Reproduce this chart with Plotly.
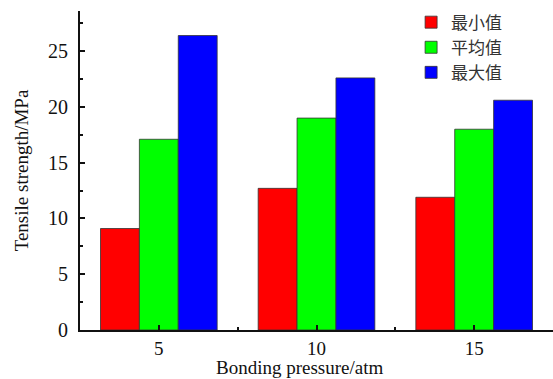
import plotly.graph_objects as go

pressures = [5, 10, 15]
series_names = ["最小值", "平均值", "最大值"]
min_vals = [9.1, 12.7, 11.9]
avg_vals = [17.1, 19.0, 18.0]
max_vals = [26.4, 22.6, 20.6]
colors = ["#ff0000", "#00ff00", "#0000ff"]

fig = go.Figure()
for name, vals, col in zip(series_names, [min_vals, avg_vals, max_vals], colors):
    fig.add_trace(go.Bar(
        x=pressures, y=vals, name=name,
        marker=dict(color=col, line=dict(color="#333333", width=0.8)),
    ))

serif = "Liberation Serif, Times New Roman, serif"
fig.update_layout(
    width=553, height=379,
    margin=dict(l=80, r=0, t=11, b=49),
    paper_bgcolor="white", plot_bgcolor="white",
    barmode="group", bargap=0.26, bargroupgap=0,
    font=dict(family=serif, size=19, color="#111111"),
    showlegend=True,
    legend=dict(
        x=0.70, y=1.02, xanchor="left", yanchor="top",
        bgcolor="rgba(0,0,0,0)",
        font=dict(family="Noto Sans CJK SC", size=17, color="#333333"),
        tracegroupgap=0, itemwidth=30,
    ),
    xaxis=dict(
        range=[2.5, 17.5],
        tickvals=pressures, ticktext=[str(p) for p in pressures],
        ticks="inside", ticklen=5, tickwidth=1.5, tickcolor="#111111",
        minor=dict(tickvals=[7.5, 12.5], ticks="inside", ticklen=3, tickwidth=1.5, tickcolor="#111111"),
        showline=True, linecolor="#111111", linewidth=2,
        showgrid=False, zeroline=False,
        tickfont=dict(family=serif, size=19, color="#111111"),
    ),
    yaxis=dict(
        range=[0, 28.6],
        tickvals=[0, 5, 10, 15, 20, 25],
        ticks="inside", ticklen=5, tickwidth=1.5, tickcolor="#111111",
        minor=dict(tickvals=[2.5, 7.5, 12.5, 17.5, 22.5, 27.5], ticks="inside", ticklen=3, tickwidth=1.5, tickcolor="#111111"),
        showline=True, linecolor="#111111", linewidth=2,
        showgrid=False, zeroline=False,
        ticklabelstandoff=6,
        title=dict(text="Tensile strength/MPa", standoff=14, font=dict(family=serif, size=19, color="#111111")),
        tickfont=dict(family=serif, size=20, color="#111111"),
    ),
    annotations=[dict(
        text="Bonding pressure/atm", xref="paper", yref="paper",
        x=0.465, y=-0.118, xanchor="center", yanchor="middle", showarrow=False,
        font=dict(family=serif, size=19, color="#111111"),
    )],
)

fig.write_html("out.html")
